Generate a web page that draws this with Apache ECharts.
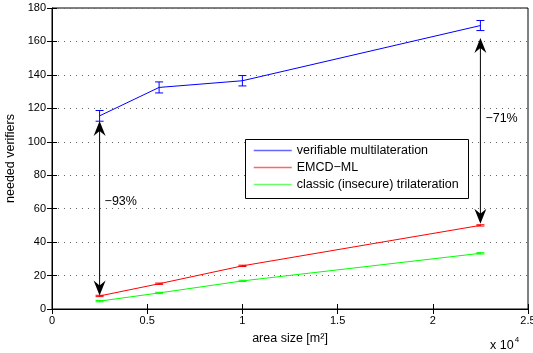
<!DOCTYPE html>
<html>
<head>
<meta charset="utf-8">
<script src="https://cdn.jsdelivr.net/npm/echarts@6/dist/echarts.min.js"></script>
<style>
html,body{margin:0;padding:0;background:#fff;}
#chart{width:533px;height:353px;}
</style>
</head>
<body>
<div id="chart"></div>
<script>
// ---- data ----
const areas = [2500, 5625, 10000, 22500];
const verifiable = [115.5, 132.5, 136.5, 169.5];
const verifiableErr = [3.2, 3.3, 3.1, 3.0];
const emcd = [7.8, 15.1, 25.8, 50.0];
const emcdErr = [0.4, 0.4, 0.4, 0.4];
const classic = [4.7, 9.6, 16.8, 33.3];
const classicErr = [0.4, 0.4, 0.4, 0.4];
const seriesNames = ['verifiable multilateration', 'EMCD\u2212ML', 'classic (insecure) trilateration'];
const yTicks = [0, 20, 40, 60, 80, 100, 120, 140, 160, 180];
const xTickLabels = ['0', '0.5', '1', '1.5', '2', '2.5'];
// annotations: arrows between curves
const arrowX = [2500, 22500];
const arrowFrom = [112.5, 162];
const arrowTo = [8.0, 51];
const arrowLabels = ['\u221293%', '\u221271%'];
const arrowLabelY = [64, 114];

const FONT = '"Liberation Sans", Arial, Helvetica, sans-serif';
const colors = ['#0000ff', '#ff0000', '#00ff00'];

function pairs(xs, ys) { return xs.map((x, i) => [x, ys[i]]); }
function triples(xs, ys, es) { return xs.map((x, i) => [x, ys[i], es[i]]); }

function errorBarSeries(name, color, ys, es) {
  return {
    type: 'custom',
    name: name + ' err',
    coordinateSystem: 'cartesian2d',
    silent: true,
    z: 4,
    data: triples(areas, ys, es),
    renderItem: function (params, api) {
      const x = api.value(0), y = api.value(1), e = api.value(2);
      const t = api.coord([x, y + e]);
      const b = api.coord([x, y - e]);
      const hw = 4;
      const st = { stroke: color, lineWidth: 1 };
      return {
        type: 'group',
        children: [
          { type: 'line', shape: { x1: t[0], y1: t[1], x2: b[0], y2: b[1] }, style: st },
          { type: 'line', shape: { x1: t[0] - hw, y1: t[1], x2: t[0] + hw, y2: t[1] }, style: st },
          { type: 'line', shape: { x1: b[0] - hw, y1: b[1], x2: b[0] + hw, y2: b[1] }, style: st }
        ]
      };
    }
  };
}

function arrowHead(tip, dir) {
  const L = 15, W = 6, N = 10;
  const x = tip[0], y = tip[1];
  return {
    type: 'polygon',
    shape: { points: [[x, y], [x - W, y - dir * L], [x, y - dir * N], [x + W, y - dir * L]] },
    style: { fill: '#000' }
  };
}

const arrowData = arrowX.map((x, i) => [x, arrowFrom[i], arrowTo[i]]);
const labelData = arrowX.map((x, i) => [x, arrowLabelY[i], i]);

const option = {
  animation: false,
  backgroundColor: '#fff',
  grid: { left: 52, right: 5, top: 8, bottom: 44, outerBoundsMode: 'none', containLabel: false,
    show: true, borderColor: '#000', borderWidth: 1, backgroundColor: 'transparent' },
  xAxis: [{
    type: 'value', min: 0, max: 25000, interval: 5000,
    name: 'area size [m\u00b2]', nameLocation: 'middle', nameGap: 23,
    nameTextStyle: { fontFamily: FONT, fontSize: 12.5, color: '#000' },
    axisLine: { show: true, lineStyle: { color: '#000', width: 1 } },
    axisTick: { show: true, inside: true, length: 5, lineStyle: { color: '#000' } },
    axisLabel: { margin: 6, fontFamily: FONT, fontSize: 11, color: '#000',
      formatter: function (v) { return xTickLabels[Math.round(v / 5000)]; } },
    splitLine: { show: false }
  }, {
    type: 'value', position: 'top', min: 0, max: 25000, interval: 5000,
    axisLine: { show: false },
    axisTick: { show: true, inside: true, length: 5, lineStyle: { color: '#000' } },
    axisLabel: { show: false }, splitLine: { show: false }
  }],
  yAxis: [{
    type: 'value', min: 0, max: 180, interval: 20,
    name: 'needed verifiers', nameLocation: 'middle', nameGap: 25, nameRotate: 90,
    nameTextStyle: { fontFamily: FONT, fontSize: 12.5, color: '#000' },
    axisLine: { show: true, lineStyle: { color: '#000', width: 1 } },
    axisTick: { show: true, inside: true, length: 5, lineStyle: { color: '#000' } },
    axisLabel: { margin: 6, fontFamily: FONT, fontSize: 11, color: '#000',
      formatter: function (v) { return yTicks.indexOf(v) >= 0 ? String(v) : ''; } },
    splitLine: { show: true, lineStyle: { color: '#666', type: [1, 5], width: 1 } }
  }, {
    type: 'value', position: 'right', min: 0, max: 180, interval: 20,
    axisLine: { show: false },
    axisTick: { show: true, inside: true, length: 5, lineStyle: { color: '#000' } },
    axisLabel: { show: false }, splitLine: { show: false }
  }],
  legend: {
    left: 245, top: 140, orient: 'vertical', z: 20,
    padding: [4, 8, 4, 8],
    itemWidth: 38, itemHeight: 12, itemGap: 4,
    itemStyle: { opacity: 0 },
    lineStyle: { width: 1.5, opacity: 0.6 },
    textStyle: { fontFamily: FONT, fontSize: 12.5, color: '#000' },
    data: seriesNames
  },
  graphic: [
    { type: 'rect', left: 245, top: 139, z: 3, shape: { width: 223, height: 59 },
      style: { fill: '#fff', stroke: '#000', lineWidth: 1 } },
    { type: 'text', left: 490, top: 336, z: 50,
      style: { text: '{a|x 10}{b|4}', fill: '#000',
        rich: { a: { fontFamily: FONT, fontSize: 12.5, verticalAlign: 'bottom' },
                b: { fontFamily: FONT, fontSize: 8, verticalAlign: 'top', padding: [0, 0, 8, 1] } } } }
  ],
  series: [
    { type: 'line', name: seriesNames[0], data: pairs(areas, verifiable), symbol: 'none',
      lineStyle: { color: colors[0], width: 1 }, itemStyle: { color: colors[0] }, z: 5 },
    { type: 'line', name: seriesNames[1], data: pairs(areas, emcd), symbol: 'none',
      lineStyle: { color: colors[1], width: 1 }, itemStyle: { color: colors[1] }, z: 5 },
    { type: 'line', name: seriesNames[2], data: pairs(areas, classic), symbol: 'none',
      lineStyle: { color: colors[2], width: 1 }, itemStyle: { color: colors[2] }, z: 5 },
    errorBarSeries(seriesNames[0], colors[0], verifiable, verifiableErr),
    errorBarSeries(seriesNames[1], colors[1], emcd, emcdErr),
    errorBarSeries(seriesNames[2], colors[2], classic, classicErr),
    {
      type: 'custom', name: 'arrows', coordinateSystem: 'cartesian2d', silent: true, z: 6,
      data: arrowData,
      renderItem: function (params, api) {
        const x = api.value(0);
        const a = api.coord([x, api.value(1)]);
        const b = api.coord([x, api.value(2)]);
        return {
          type: 'group',
          children: [
            { type: 'line', shape: { x1: a[0], y1: a[1] + 8, x2: b[0], y2: b[1] - 8 }, style: { stroke: '#000', lineWidth: 1 } },
            arrowHead(a, -1),
            arrowHead(b, 1)
          ]
        };
      }
    },
    {
      type: 'custom', name: 'arrowLabels', coordinateSystem: 'cartesian2d', silent: true, z: 6,
      data: labelData,
      renderItem: function (params, api) {
        const p = api.coord([api.value(0), api.value(1)]);
        return {
          type: 'text', x: p[0] + 5, y: p[1],
          style: { text: arrowLabels[api.value(2)], fill: '#000', fontFamily: FONT, fontSize: 12.5,
            align: 'left', verticalAlign: 'middle' }
        };
      }
    }
  ]
};

const chart = echarts.init(document.getElementById('chart'), null, { renderer: 'canvas' });
chart.setOption(option);
</script>
</body>
</html>
